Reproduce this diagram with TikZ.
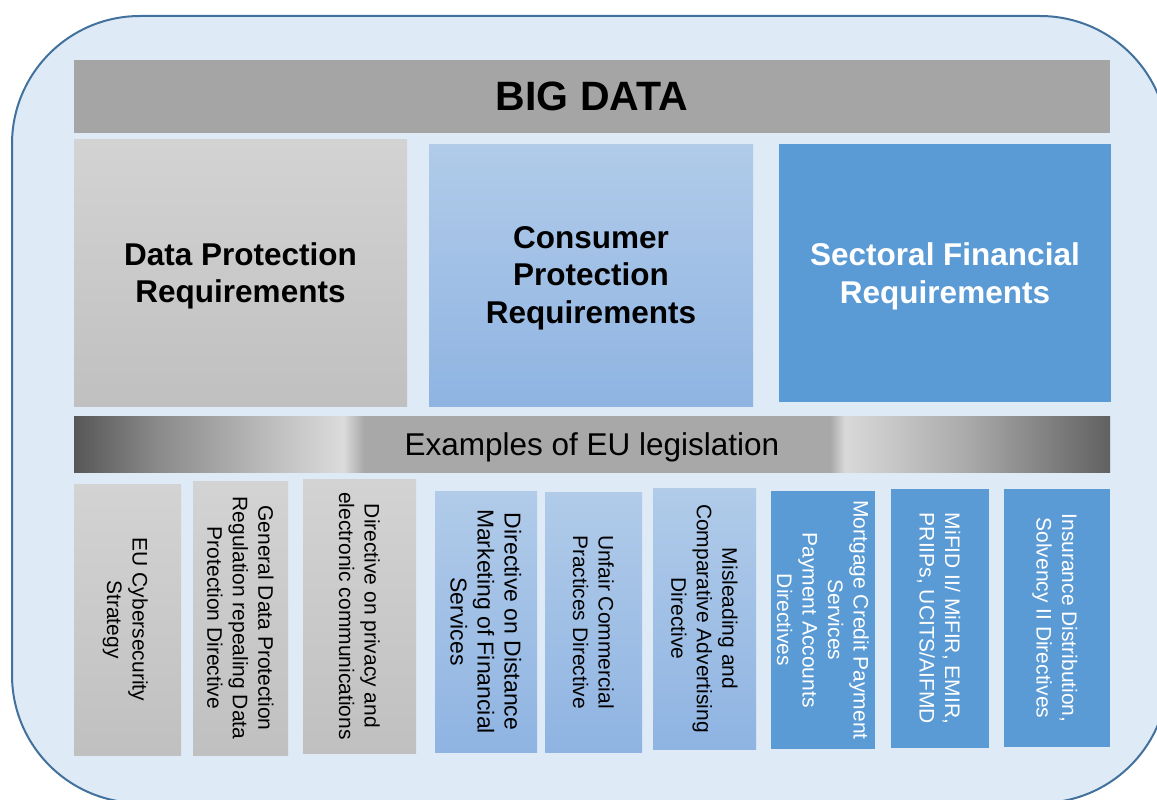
\documentclass[tikz,border=0pt]{standalone}
\usepackage{fontspec}
\setmainfont{Liberation Sans}
\usepackage{tikz}
\definecolor{panelbg}{RGB}{222,234,246}
\definecolor{panelline}{RGB}{65,113,156}
\definecolor{bigdatagray}{RGB}{165,165,165}
\definecolor{dptop}{RGB}{211,211,211}
\definecolor{dpbot}{RGB}{192,192,192}
\definecolor{cptop}{RGB}{177,203,233}
\definecolor{cpbot}{RGB}{143,180,226}
\definecolor{sfblue}{RGB}{91,155,213}
\pgfdeclarehorizontalshading{metalbar}{100bp}{color(0bp)=(black!66); color(25bp)=(black!66);
  color(29bp)=(black!46); color(35bp)=(black!24); color(38bp)=(black!14); color(39bp)=(black!34);
  color(61.5bp)=(black!34); color(62.2bp)=(black!15); color(68bp)=(black!33);
  color(75bp)=(black!62); color(100bp)=(black!62)}
\tikzset{
  plain/.style={inner sep=0pt, align=center, text depth=0pt},
  headbox/.style={plain, font=\fontsize{31.5}{37.5}\selectfont\bfseries},
  lawbox/.style={plain, rotate=-90, font=\fontsize{21}{25.5}\selectfont},
  dpshade/.style={top color=dptop, bottom color=dpbot},
  cpshade/.style={top color=cptop, bottom color=cpbot},
}

\begin{document}
\begin{tikzpicture}[x=1pt,y=-1pt]
    \useasboundingbox (0,0) rectangle (1157,800);
    \clip (0,0) rectangle (1157,800);
    \draw [panelline, fill=panelbg, line width=2pt, rounded corners=128pt] (12,16) rectangle (1168,803);

    \node [plain, fill=bigdatagray, minimum width=1036pt, minimum height=73pt, font=\fontsize{41}{48}\selectfont\bfseries] (bigdata) at (592,96.5) {BIG DATA};

    % requirement boxes
    \node [headbox, dpshade, minimum width=333pt, minimum height=267pt] (dataprot) at (240.5,272.5) {Data Protection\\Requirements};
    \node [headbox, cpshade, minimum width=324pt, minimum height=262pt] (consumer) at (591,275) {Consumer\\Protection\\Requirements};
    \node [headbox, fill=sfblue, text=white, minimum width=332pt, minimum height=258pt] (sectoral) at (945,273) {Sectoral Financial\\Requirements};

    \node [plain, shading=metalbar, minimum width=1036pt, minimum height=56pt, font=\fontsize{31.5}{37.5}\selectfont] (examples) at (592,444) {Examples of EU legislation};

    % legislation boxes
    \node [lawbox, dpshade, minimum width=271pt, minimum height=107pt] (eucyber) at (127.5,619.5) {EU Cybersecurity\\Strategy};
    \node [lawbox, dpshade, minimum width=274pt, minimum height=95pt] (gdpr) at (240.5,618) {General Data Protection\\Regulation repealing Data\\Protection Directive};
    \node [lawbox, dpshade, minimum width=274pt, minimum height=113pt] (eprivacy) at (359.5,616) {Directive on privacy and\\electronic communications};
    \node [lawbox, cpshade, minimum width=261pt, minimum height=102pt, font=\fontsize{23}{27}\selectfont] (distance) at (486,621.5) {Directive on Distance\\Marketing of Financial\\Services};
    \node [lawbox, cpshade, minimum width=260pt, minimum height=97pt] (unfair) at (593.5,622) {Unfair Commercial\\Practices Directive};
    \node [lawbox, cpshade, minimum width=261pt, minimum height=103pt] (misleading) at (704.5,618.5) {Misleading and\\Comparative Advertising\\Directive};
    \node [lawbox, fill=sfblue, text=white, minimum width=258pt, minimum height=104pt] (mortgage) at (823,620) {Mortgage Credit Payment\\Services\\Payment Accounts\\Directives};
    \node [lawbox, fill=sfblue, text=white, minimum width=259pt, minimum height=98pt] (mifid) at (940,618.5) {MiFID II/ MiFIR, EMIR,\\PRIIPs, UCITS/AIFMD};
    \node [lawbox, fill=sfblue, text=white, minimum width=258pt, minimum height=106pt] (insurance) at (1057,618) {Insurance Distribution,\\Solvency II Directives};
\end{tikzpicture}
\end{document}
